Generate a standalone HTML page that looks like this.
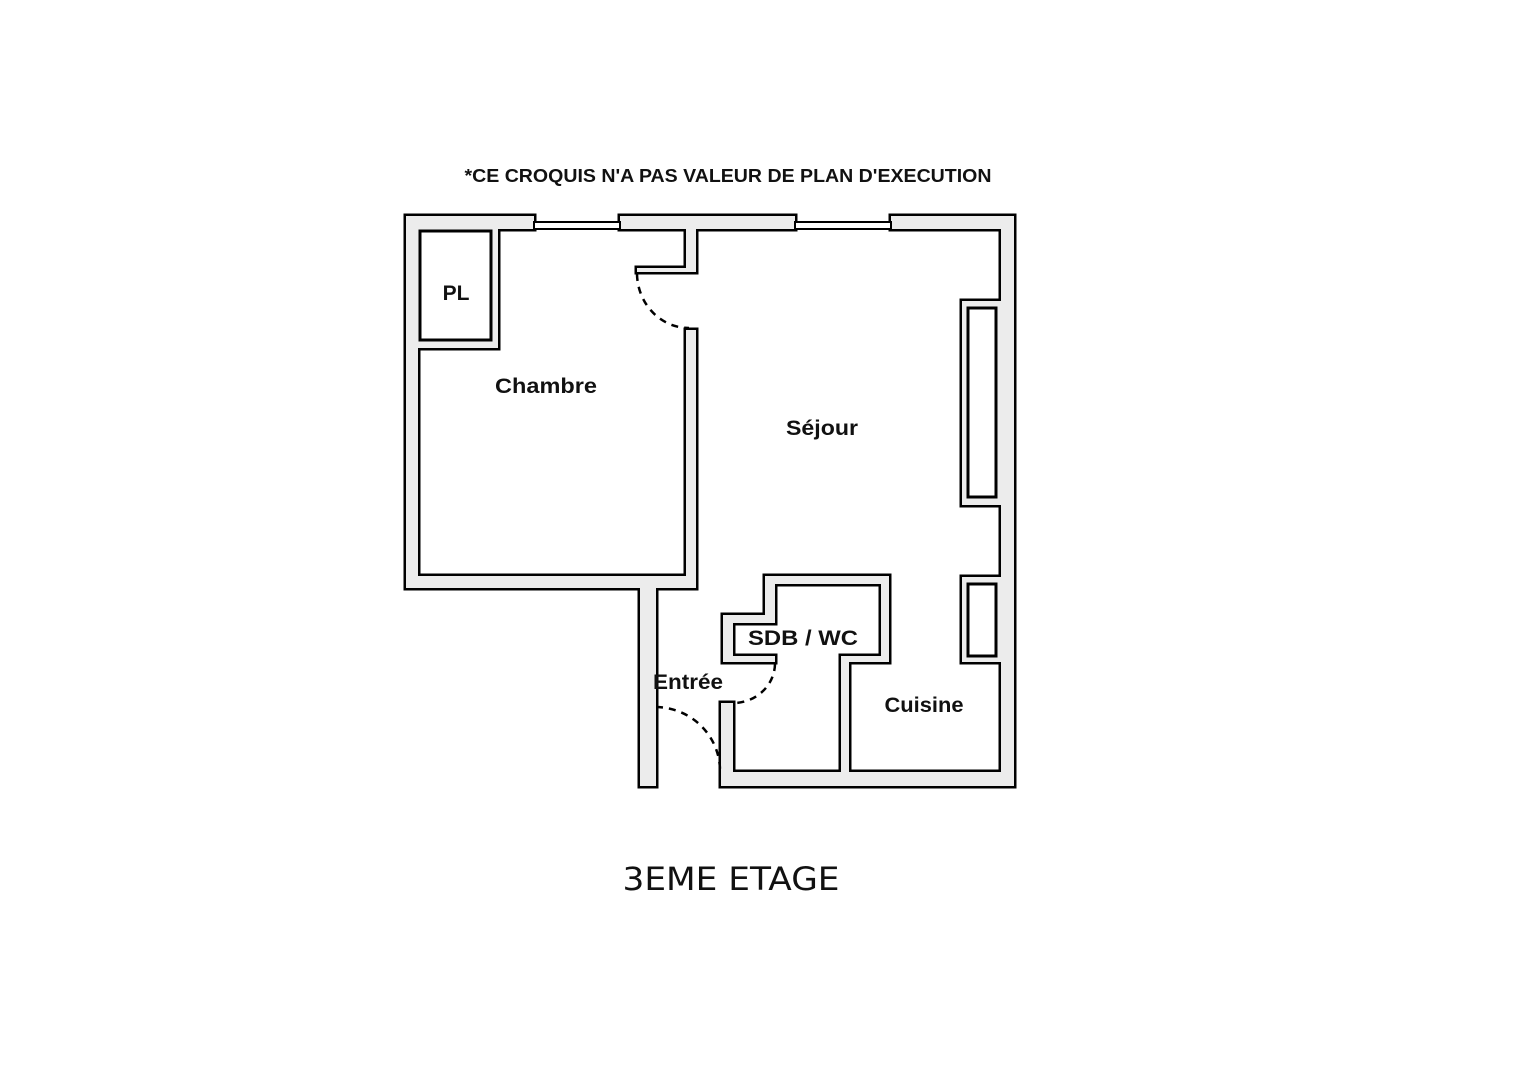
<!DOCTYPE html>
<html><head><meta charset="utf-8"><style>
html,body{margin:0;padding:0;background:#fff;}
svg{display:block}
text{font-family:"DejaVu Sans","Liberation Sans",sans-serif;fill:#111}
.l{font-family:"Liberation Sans",sans-serif;font-weight:bold}
</style></head><body>
<svg width="1527" height="1080" viewBox="0 0 1527 1080">
<defs>
<g id="walls">
<rect x="406" y="216" width="128" height="13"/>
<rect x="620" y="216" width="175" height="13"/>
<rect x="891" y="216" width="123" height="13"/>
<rect x="406" y="216" width="12" height="372"/>
<rect x="406" y="576" width="290" height="12"/>
<rect x="640" y="576" width="16" height="210"/>
<rect x="418" y="229" width="80" height="119"/>
<rect x="686" y="229" width="10" height="43"/>
<rect x="637" y="268" width="59" height="4"/>
<rect x="686" y="330" width="10" height="258"/>
<rect x="1001" y="216" width="13" height="570"/>
<rect x="962" y="301" width="40" height="204"/>
<rect x="962" y="577" width="40" height="85"/>
<rect x="721" y="772" width="293" height="14"/>
<rect x="765" y="576" width="124" height="8"/>
<rect x="881" y="576" width="8" height="86"/>
<rect x="841" y="656" width="48" height="6"/>
<rect x="841" y="656" width="8" height="120"/>
<rect x="765" y="576" width="10" height="47"/>
<rect x="723" y="615" width="52" height="8"/>
<rect x="723" y="615" width="10" height="47"/>
<rect x="723" y="656" width="52" height="6"/>
<rect x="721" y="703" width="12" height="83"/>
</g>
</defs>
<use href="#walls" fill="#000" stroke="#000" stroke-width="5"/>
<use href="#walls" fill="#ececec" stroke="none"/>
<rect x="534" y="222" width="86" height="7" fill="#fff" stroke="#000" stroke-width="2"/>
<rect x="795" y="222" width="96" height="7" fill="#fff" stroke="#000" stroke-width="2"/>
<rect x="420" y="231" width="71" height="109" fill="#fff" stroke="#000" stroke-width="3"/>
<rect x="968" y="308" width="28" height="189" fill="#fff" stroke="#000" stroke-width="3"/>
<rect x="968" y="584" width="28" height="72" fill="#fff" stroke="#000" stroke-width="3"/>
<g fill="none" stroke="#000" stroke-width="2.5" stroke-dasharray="7,6">
<path d="M637,274 A52,55 0 0 0 689,328"/>
<path d="M775,664 A42,40 0 0 1 735,703"/>
<path d="M656,707 A65,64 0 0 1 720,772"/>
</g>
<text class="l" x="728" y="182" font-size="18" text-anchor="middle" textLength="527" lengthAdjust="spacingAndGlyphs">*CE CROQUIS N'A PAS VALEUR DE PLAN D'EXECUTION</text>
<text class="l" x="456" y="300" font-size="21" text-anchor="middle">PL</text>
<text class="l" x="546" y="393" font-size="21" text-anchor="middle" textLength="102" lengthAdjust="spacingAndGlyphs">Chambre</text>
<text class="l" x="822" y="435" font-size="21" text-anchor="middle" textLength="72" lengthAdjust="spacingAndGlyphs">Séjour</text>
<text class="l" x="803" y="645" font-size="21" text-anchor="middle" textLength="110" lengthAdjust="spacingAndGlyphs">SDB / WC</text>
<text class="l" x="688" y="689" font-size="21" text-anchor="middle" textLength="70" lengthAdjust="spacingAndGlyphs">Entrée</text>
<text class="l" x="924" y="712" font-size="21" text-anchor="middle" textLength="79" lengthAdjust="spacingAndGlyphs">Cuisine</text>
<text x="731" y="890" font-size="32" text-anchor="middle" textLength="217" lengthAdjust="spacingAndGlyphs">3EME  ETAGE</text>
</svg>
</body></html>
